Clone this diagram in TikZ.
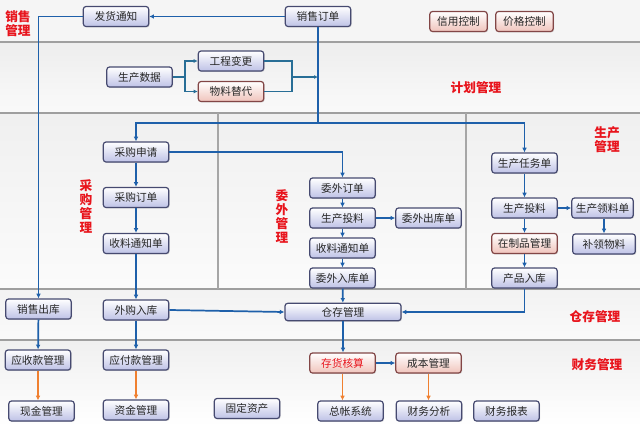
\documentclass[tikz,border=0pt]{standalone}
\usepackage{fontspec}
\setmainfont{Noto Sans CJK SC}
\usetikzlibrary{arrows.meta,shadows}
\definecolor{boxline}{RGB}{70,74,112}
\definecolor{boxfill}{RGB}{190,194,230}
\definecolor{pinkline}{RGB}{130,70,70}
\definecolor{pinkfill}{RGB}{240,196,188}
\definecolor{flow}{RGB}{30,96,170}
\definecolor{planflow}{RGB}{40,110,150}
\definecolor{orangeflow}{RGB}{240,128,48}
\definecolor{lbl}{RGB}{232,20,28}
\begin{document}
\begin{tikzpicture}[x=0.75pt,y=-0.75pt,
 box/.style={draw=boxline,line width=0.9pt,rounded corners=2pt,top color=white,bottom color=boxfill,
  minimum width=49pt,minimum height=15pt,inner sep=1pt,font=\fontsize{8}{9}\selectfont,text=black!85,
  drop shadow={shadow xshift=0.7pt,shadow yshift=-0.7pt,opacity=0.3}},
 pinkbox/.style={box,draw=pinkline,bottom color=pinkfill},
 sect/.style={text=lbl,font=\fontsize{9.5}{10.5}\selectfont\bfseries,align=center,inner sep=0pt},
 flowline/.style={draw=flow,line width=1.3pt,-{Latex[length=3.5pt,width=3.5pt]}},
 planline/.style={draw=planflow,line width=1.1pt},
 orangeline/.style={draw=orangeflow,line width=1.3pt,-{Latex[length=3.5pt,width=3.5pt]}}]
 \useasboundingbox (0,0) rectangle (640,426);
 \fill[gray!8] (0,0) rectangle (640,426);
 \fill[top color=gray!14,bottom color=gray!4] (0,42) rectangle (640,113);
 \fill[top color=gray!12,bottom color=gray!3] (0,113) rectangle (640,289);
 \fill[top color=gray!10,bottom color=gray!4] (0,289) rectangle (640,340);
 \fill[top color=gray!12,bottom color=white] (0,340) rectangle (640,426);
 \draw[gray!75,line width=1pt](0,42)--(640,42);
 \draw[gray!75,line width=1pt](0,113)--(640,113);
 \draw[gray!75,line width=1pt](0,289)--(640,289);
 \draw[gray!75,line width=1pt](0,340)--(640,340);
 \draw[gray!70,line width=0.8pt](218,113)--(218,289);
 \draw[gray!70,line width=0.8pt](466,113)--(466,289);

 \node[sect] (lxs) at (18,24) {销售\\管理};
 \node[sect] (ljh) at (476,88) {计划管理};
 \node[sect] (lsc) at (607,140) {生产\\管理};
 \node[sect] (lcg) at (86,206) {采\\购\\管\\理};
 \node[sect] (lww) at (282,216) {委\\外\\管\\理};
 \node[sect] (lcc) at (595,317) {仓存管理};
 \node[sect] (lcw) at (597,365) {财务管理};

 \node[box] (fahuo) at (116,16.5) {发货通知};
 \node[box] (xsdd) at (318,16.5) {销售订单};
 \node[pinkbox,minimum width=43pt] (xinyong) at (458.5,21.5) {信用控制};
 \node[pinkbox,minimum width=43pt] (jiage) at (524.5,21.5) {价格控制};
 \node[box] (scsj) at (139.5,77) {生产数据};
 \node[box] (gcbg) at (231,61) {工程变更};
 \node[pinkbox] (wltd) at (231,91.5) {物料替代};
 \node[box] (cgsq) at (136,152) {采购申请};
 \node[box] (cgdd) at (136,197.5) {采购订单};
 \node[box] (cltz) at (136,243.5) {收料通知单};
 \node[box] (wwdd) at (342.5,188) {委外订单};
 \node[box] (wwtl) at (342.5,218) {生产投料};
 \node[box] (wwck) at (428.5,218) {委外出库单};
 \node[box] (wwtz) at (342.5,248) {收料通知单};
 \node[box] (wwrk) at (342.5,278) {委外入库单};
 \node[box] (scrw) at (524.5,163) {生产任务单};
 \node[box] (sctl) at (524.5,208) {生产投料};
 \node[box,minimum width=46pt] (scll) at (602.5,208) {生产领料单};
 \node[pinkbox] (zzp) at (524.5,243.5) {在制品管理};
 \node[box,minimum width=47pt] (bl) at (604,244) {补领物料};
 \node[box] (cprk) at (524.5,278) {产品入库};
 \node[box] (xsck) at (38.5,309) {销售出库};
 \node[box] (wgrk) at (136,310) {外购入库};
 \node[box,minimum width=87pt,minimum height=13pt] (ccgl) at (343,312) {仓存管理};
 \node[box] (ysk) at (38,360) {应收款管理};
 \node[box] (yfk) at (136,360) {应付款管理};
 \node[pinkbox,text=lbl] (chhs) at (342.5,363) {存货核算};
 \node[pinkbox] (cbgl) at (428.5,363) {成本管理};
 \node[box] (xj) at (41.5,411) {现金管理};
 \node[box] (zj) at (136,410) {资金管理};
 \node[box] (gdzc) at (247,408.5) {固定资产};
 \node[box] (zz) at (350.5,411) {总帐系统};
 \node[box] (cwfx) at (429,411) {财务分析};
 \node[box] (cwbb) at (506.5,411) {财务报表};

 \coordinate (hub) at (318,123);
 \coordinate (pa) at (185,77);
 \coordinate (pb) at (292,77);
 \draw[flowline] (xsdd.west) -- (fahuo.east);
 \draw[flowline] (fahuo.west) -| (xsck.north);
 \draw[flowline,-] (xsdd.south) -- (hub);
 \draw[flowline] (hub) -| (cgsq.north);
 \draw[flowline] (hub) -| (scrw.north);
 \draw[planline] (scsj.east) -- (pa);
 \draw[planline,-{Latex[length=3pt,width=3pt]}] (pa) |- (gcbg.west);
 \draw[planline,-{Latex[length=3pt,width=3pt]}] (pa) |- (wltd.west);
 \draw[planline] (gcbg.east) -| (pb);
 \draw[planline] (wltd.east) -| (pb);
 \draw[planline,-{Latex[length=3pt,width=3pt]}] (pb) -- (pb -| xsdd.south);
 \draw[flowline] (cgsq) -- (cgdd);
 \draw[flowline] (cgdd) -- (cltz);
 \draw[flowline] (cltz) -- (wgrk);
 \draw[flowline] (cgsq.east) -| (wwdd.north);
 \draw[flowline] (wwdd) -- (wwtl);
 \draw[flowline] (wwtl) -- (wwck);
 \draw[flowline] (wwtl) -- (wwtz);
 \draw[flowline] (wwtz) -- (wwrk);
 \draw[flowline] (wwrk) -- (ccgl);
 \draw[flowline] (scrw) -- (sctl);
 \draw[flowline] (sctl) -- (scll);
 \draw[flowline] (scll.south -| bl.north) -- (bl.north);
 \draw[flowline] (sctl) -- (zzp);
 \draw[flowline] (zzp) -- (cprk);
 \draw[flowline] (cprk.south) |- (ccgl.east);
 \draw[flowline] (wgrk.east) -- (ccgl.west);
 \draw[flowline] (xsck) -- (ysk);
 \draw[flowline] (wgrk) -- (yfk);
 \draw[flowline] (ccgl.south) -- (ccgl.south |- chhs.north);
 \draw[flowline] (chhs) -- (cbgl);
 \draw[orangeline] (ysk.south) -- (ysk.south |- xj.north);
 \draw[orangeline] (yfk) -- (zj);
 \draw[orangeline] (chhs.south) -- (chhs.south |- zz.north);
 \draw[orangeline] (cbgl.south) -- (cbgl.south |- cwfx.north);
\end{tikzpicture}
\end{document}
